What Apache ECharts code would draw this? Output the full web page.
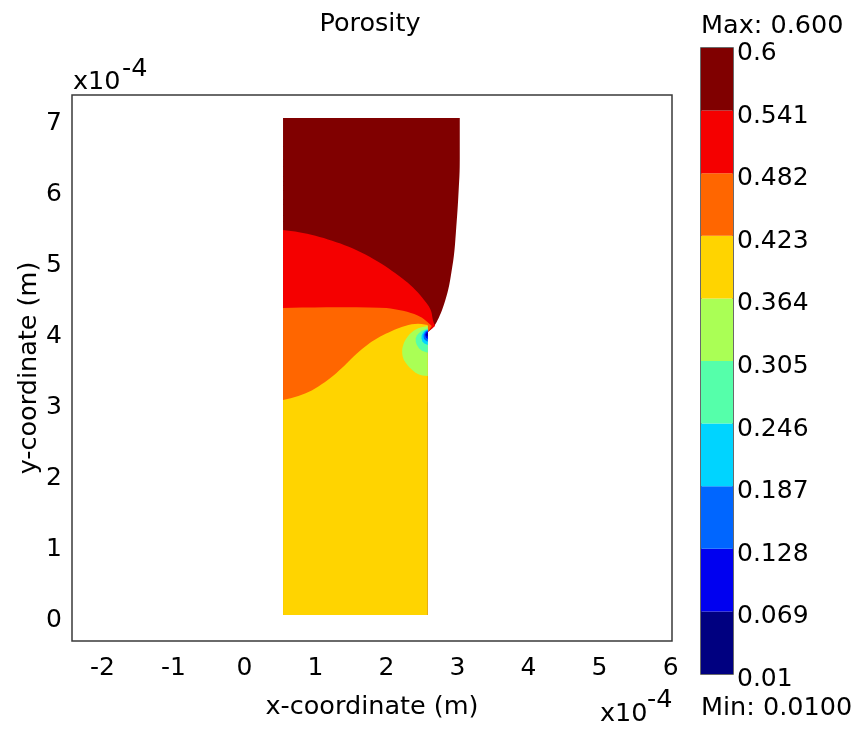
<!DOCTYPE html>
<html><head><meta charset="utf-8">
<style>html,body{margin:0;padding:0;background:#fff}#c{width:856px;height:729px}</style>
<script src="https://cdn.jsdelivr.net/npm/echarts@6/dist/echarts.min.js"></script>
</head><body><div id="c"></div>
<script>
const xTicks=[-2,-1,0,1,2,3,4,5,6];
const yTicks=[0,1,2,3,4,5,6,7];
const levels=[0.01,0.069,0.128,0.187,0.246,0.305,0.364,0.423,0.482,0.541,0.6];
const bandColors=['#000080','#0000f0','#0066ff','#00d4ff','#55ffaa','#aaff55','#ffd400','#ff6600','#f50000','#800000'];
// contour lines, in units of 1e-4 m
const edgeTop=[[3.031,6.6],[3.031,6.268],[3.017,6.014],[3.003,5.751],[2.979,5.423],[2.955,5.094],[2.908,4.789],[2.87,4.577],[2.8,4.342],[2.744,4.201],[2.683,4.085],[2.637,4.028],[2.58,3.986]];
const edge541=[[0.542,5.423],[0.735,5.399],[0.969,5.352],[1.204,5.282],[1.439,5.201],[1.673,5.094],[1.908,4.962],[2.096,4.835],[2.285,4.694],[2.425,4.563],[2.542,4.423],[2.63,4.296],[2.65,4.155],[2.683,4.07]];
const edge482=[[0.542,4.324],[1.017,4.334],[1.908,4.334],[2.144,4.306],[2.378,4.249],[2.519,4.179],[2.637,4.07]];
const edge423=[[0.542,3.028],[0.735,3.075],[0.923,3.145],[1.11,3.263],[1.275,3.39],[1.416,3.521],[1.556,3.662],[1.721,3.803],[1.885,3.911],[2.049,3.99],[2.237,4.07],[2.425,4.108],[2.58,4.085]];
const edge364=[[2.58,3.366],[2.448,3.38],[2.331,3.475],[2.237,3.592],[2.214,3.709],[2.237,3.826],[2.307,3.944],[2.425,4.038],[2.58,4.07]];
const edge305=[[2.58,3.694],[2.472,3.732],[2.411,3.827],[2.411,3.92],[2.472,3.99],[2.58,4.038]];
const edge246=[[2.58,3.803],[2.51,3.835],[2.486,3.92],[2.518,3.99],[2.58,4.024]];
const edge187=[[2.58,3.85],[2.528,3.883],[2.518,3.944],[2.546,3.99],[2.58,4.014]];
const edge128=[[2.58,3.883],[2.546,3.92],[2.546,3.967],[2.58,4.0]];
const edge069=[[2.58,3.92],[2.555,3.944],[2.58,3.985]];
// corners that close each region, painted from the highest band down
const closeTop=[[2.58,0],[0.542,0],[0.542,7.0],[3.031,7.0]];
const close541=[[2.58,3.986],[0.542,3.986]];
const close482=[[2.58,3.986],[2.58,3.0],[0.542,3.0]];
const close423=[[2.58,0],[0.542,0]];
const edges=[edgeTop,edge541,edge482,edge423,edge364,edge305,edge246,edge187,edge128,edge069];
const closes=[closeTop,close541,close482,close423,[],[],[],[],[],[]];
const regionColors=bandColors.slice().reverse();

// round off a contour line's corners (same job as a line series' smooth option)
function rounded(pts,n){
  let p=pts;
  for(let k=0;k<n;k++){
    const o=[p[0]];
    for(let i=0;i<p.length-1;i++){
      const a=p[i],b=p[i+1];
      if(i>0)o.push([a[0]*.75+b[0]*.25,a[1]*.75+b[1]*.25]);
      if(i<p.length-2)o.push([a[0]*.25+b[0]*.75,a[1]*.25+b[1]*.75]);
    }
    o.push(p[p.length-1]);
    p=o;
  }
  return p;
}

const F='"DejaVu Sans"';
const TS=25.5, NS=25;
const txt=(x,y,t,size)=>({type:'text',left:x,top:y,silent:true,style:{text:t,font:size+'px '+F,fill:'#000'}});
const chart=echarts.init(document.getElementById('c'),null,{renderer:'canvas'});
chart.setOption({
  animation:false,
  backgroundColor:'#fff',
  title:{text:'Porosity',left:365,top:6,textAlign:'center',textStyle:{fontFamily:F,fontSize:TS,fontWeight:'normal',color:'#000'}},
  grid:[
    {left:72,top:95,width:600,height:546,outerBoundsMode:'none',show:true,borderColor:'#3a3a3a',borderWidth:1.5,backgroundColor:'#fff'},
    {left:701,top:48,width:32,height:626,outerBoundsMode:'none',show:true,borderColor:'#3a3a3a',borderWidth:1.5,backgroundColor:'transparent'}
  ],
  xAxis:[
    {type:'value',gridIndex:0,min:-2.43,max:6.02,name:'x-coordinate (m)',nameLocation:'middle',nameGap:53,
     nameTextStyle:{fontFamily:F,fontSize:TS,color:'#000'},
     axisLine:{show:false},axisTick:{show:false},splitLine:{show:false},
     axisLabel:{customValues:xTicks,margin:15,fontFamily:F,fontSize:NS,color:'#000'}},
    {type:'value',gridIndex:1,min:0,max:1,show:false,splitLine:{show:false}}
  ],
  yAxis:[
    {type:'value',gridIndex:0,min:-0.366,max:7.324,name:'y-coordinate (m)',nameLocation:'middle',nameGap:30,nameRotate:90,nameMoveOverlap:false,
     nameTextStyle:{fontFamily:F,fontSize:TS,color:'#000'},
     axisLine:{show:false},axisTick:{show:false},splitLine:{show:false},
     axisLabel:{customValues:yTicks,margin:10,formatter:v=>'{a|'+v+'}',
       rich:{a:{fontFamily:F,fontSize:NS,color:'#000',padding:[10,0,0,0]}}}},
    {type:'value',gridIndex:1,min:0.01,max:0.6,position:'right',
     axisLine:{show:false},axisTick:{show:false},splitLine:{show:false},
     axisLabel:{customValues:levels,margin:4,formatter:v=>'{a|'+v+'}',
       rich:{a:{fontFamily:F,fontSize:NS,color:'#000',padding:[11,0,0,0]}}}}
  ],
  series:[
    {type:'custom',xAxisIndex:0,yAxisIndex:0,silent:true,coordinateSystem:'cartesian2d',
     data:edges.map((r,i)=>[r[0][0],r[0][1],i]),encode:{x:0,y:1},clip:true,
     renderItem:(p,api)=>{const i=api.value(2);
       const pts=rounded(edges[i],i>=5?1:2).concat(closes[i]).map(q=>api.coord(q));
       return {type:'polygon',shape:{points:pts},style:{fill:regionColors[i]}};}},
    {type:'custom',xAxisIndex:1,yAxisIndex:1,silent:true,coordinateSystem:'cartesian2d',z:1,
     data:bandColors.map((c,i)=>[0,levels[i],i]),encode:{x:0,y:1},
     renderItem:(p,api)=>{const i=api.value(2);
       const a=api.coord([0,levels[i+1]]),b=api.coord([1,levels[i]]);
       return {type:'rect',shape:{x:a[0],y:a[1],width:b[0]-a[0],height:b[1]-a[1]},style:{fill:bandColors[i]}};}}
  ],
  graphic:[
    txt(701,13,'Max: 0.600',TS),
    txt(701,695,'Min: 0.0100',TS),
    txt(73,69,'x10',TS),
    txt(122,56,'-4',TS),
    txt(600,701,'x10',TS),
    txt(647,687,'-4',TS)
  ]
});
</script></body></html>
